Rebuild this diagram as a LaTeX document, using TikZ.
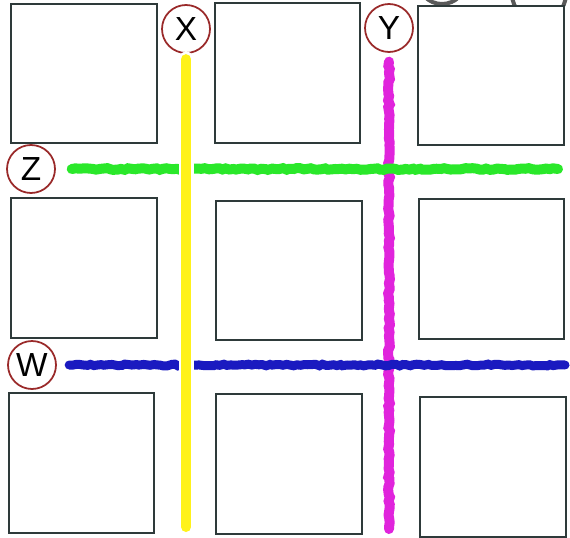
\documentclass[tikz,border=0pt]{standalone}
\usepackage{fontspec}
\setmainfont{Liberation Sans}
\usetikzlibrary{decorations.pathmorphing}
\definecolor{BoxDark}{HTML}{2E3A3A}
\definecolor{RingRed}{HTML}{9A2A2A}
\definecolor{PenYellow}{HTML}{FFF21A}
\definecolor{PenMagenta}{HTML}{E024DC}
\definecolor{PenGreen}{HTML}{2AE82A}
\definecolor{PenBlue}{HTML}{1A1AC0}
\definecolor{RingGray}{HTML}{5A5A5A}

\begin{document}
\begin{tikzpicture}[x=0.02cm,y=-0.02cm,
    cell/.style={draw=BoxDark,line width=0.04cm,fill=white,inner sep=0pt,
      minimum width=2.92cm,minimum height=2.8cm},
    tag/.style={circle,draw=RingRed,line width=1pt,fill=white,inner sep=0pt,
      minimum size=0.96cm,font=\fontsize{19}{22}\selectfont},
    pen/.style={line width=0.2cm,line cap=round},
    rough/.style={decorate,decoration={random steps,segment length=2pt,
      amplitude=0.5pt,pre=moveto,pre length=#1}},
    rough/.default=2pt]
        \clip (0,0) rectangle (570,537);
        \fill[white] (0,0) rectangle (570,537);
        % two half rings at the top edge
        \draw[RingGray,line width=0.08cm] (442,-20) circle (24);
        \draw[RingGray,line width=0.08cm] (539,-6) circle (27);
        % nine squares
        \node[cell] (c11) at (84,73.5) {};
        \node[cell] (c12) at (287.5,73) {};
        \node[cell] (c13) at (491,75.5) {};
        \node[cell] (c21) at (84,268) {};
        \node[cell] (c22) at (289,270.5) {};
        \node[cell] (c23) at (491.5,269) {};
        \node[cell] (c31) at (81.5,463) {};
        \node[cell] (c32) at (289,464) {};
        \node[cell] (c33) at (493,467) {};
        % labels
        \node[tag] (X) at (186,29) {X};
        \node[tag] (Y) at (389,28) {Y};
        \node[tag] (Z) at (31,169) {Z};
        \node[tag] (W) at (32,365) {W};
        \coordinate (xend) at (186,527);
        \coordinate (yend) at (389,529);
        \coordinate (zend) at (558,169);
        \coordinate (wend) at (565,365);
        % coloured lines
        \draw[pen,PenMagenta,rough=5pt] (Y.south) -- (yend);
        \draw[pen,PenGreen,rough=9pt] (Z.east) -- (zend);
        \draw[pen,PenBlue,rough=7pt,line width=0.18cm] (W.east) -- (wend);
        \draw[pen,white,line width=0.3cm,shorten <=3pt] (X.south) -- (xend);
        \draw[pen,PenYellow,shorten <=3pt] (X.south) -- (xend);
      \end{tikzpicture}
\end{document}
